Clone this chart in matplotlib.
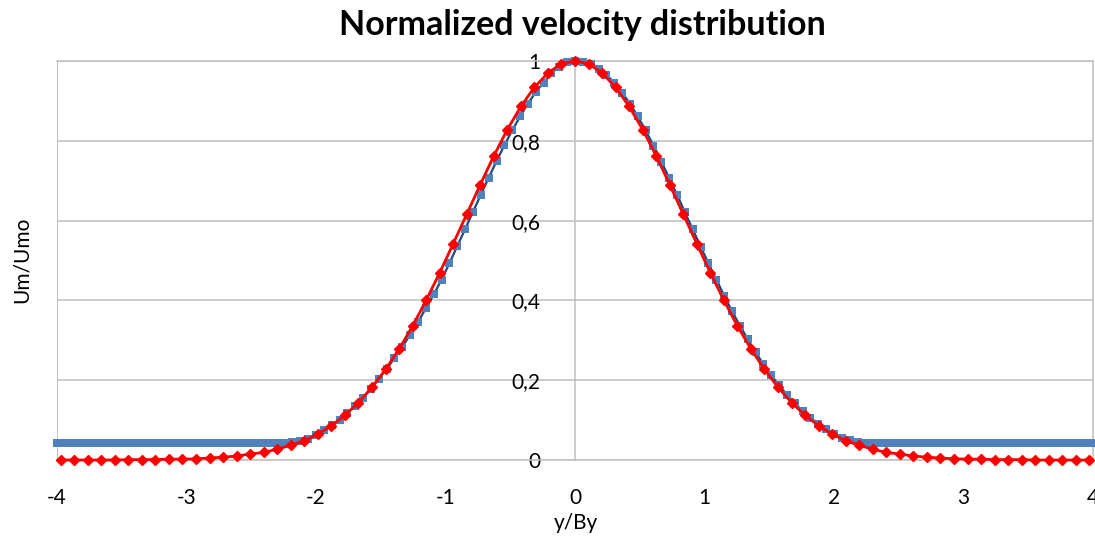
import matplotlib
matplotlib.use("Agg")
import matplotlib.pyplot as plt

title = "Normalized velocity distribution"
x_label = "y/By"
y_label = "Um/Umo"

x_ticks = [-4, -3, -2, -1, 0, 1, 2, 3, 4]
x_tick_labels = ["-4", "-3", "-2", "-1", "0", "1", "2", "3", "4"]
y_ticks = [0, 0.2, 0.4, 0.6, 0.8, 1.0]
y_tick_labels = ["0", "0,2", "0,4", "0,6", "0,8", "1"]

blue_x = [-4.000, -3.939, -3.879, -3.818, -3.758, -3.697, -3.636, -3.576, -3.515, -3.455,
          -3.394, -3.333, -3.273, -3.212, -3.152, -3.091, -3.030, -2.970, -2.909, -2.848,
          -2.788, -2.727, -2.667, -2.606, -2.545, -2.485, -2.424, -2.364, -2.303, -2.242,
          -2.182, -2.121, -2.061, -2.000, -1.939, -1.879, -1.818, -1.758, -1.697, -1.636,
          -1.576, -1.515, -1.455, -1.394, -1.333, -1.273, -1.212, -1.152, -1.091, -1.030,
          -0.970, -0.909, -0.848, -0.788, -0.727, -0.667, -0.606, -0.545, -0.485, -0.424,
          -0.364, -0.303, -0.242, -0.182, -0.121, -0.061, 0.000,
          0.061, 0.121, 0.182, 0.242, 0.303, 0.364, 0.424, 0.485, 0.545, 0.606,
          0.667, 0.727, 0.788, 0.848, 0.909, 0.970, 1.030, 1.091, 1.152, 1.212,
          1.273, 1.333, 1.394, 1.455, 1.515, 1.576, 1.636, 1.697, 1.758, 1.818,
          1.879, 1.939, 2.000, 2.061, 2.121, 2.182, 2.242, 2.303, 2.364, 2.424,
          2.485, 2.545, 2.606, 2.667, 2.727, 2.788, 2.848, 2.909, 2.970, 3.030,
          3.091, 3.152, 3.212, 3.273, 3.333, 3.394, 3.455, 3.515, 3.576, 3.636,
          3.697, 3.758, 3.818, 3.879, 3.939, 4.000]
blue_y = [0.043, 0.043, 0.043, 0.043, 0.043, 0.043, 0.043, 0.043, 0.043, 0.043,
          0.043, 0.043, 0.043, 0.043, 0.043, 0.043, 0.043, 0.043, 0.043, 0.043,
          0.043, 0.043, 0.043, 0.043, 0.043, 0.043, 0.043, 0.043, 0.043, 0.043,
          0.044, 0.047, 0.053, 0.063, 0.074, 0.087, 0.101, 0.118, 0.136, 0.156,
          0.179, 0.204, 0.228, 0.255, 0.284, 0.314, 0.346, 0.380, 0.415, 0.452,
          0.493, 0.536, 0.579, 0.622, 0.665, 0.707, 0.749, 0.789, 0.826, 0.861,
          0.893, 0.922, 0.946, 0.969, 0.986, 0.997, 1.000,
          0.998, 0.992, 0.981, 0.966, 0.946, 0.921, 0.893, 0.861, 0.826, 0.788,
          0.748, 0.707, 0.665, 0.621, 0.578, 0.535, 0.493, 0.452, 0.412, 0.373,
          0.337, 0.303, 0.270, 0.240, 0.212, 0.187, 0.164, 0.142, 0.123, 0.106,
          0.091, 0.078, 0.066, 0.056, 0.049, 0.045, 0.043, 0.043, 0.043, 0.043,
          0.043, 0.043, 0.043, 0.043, 0.043, 0.043, 0.043, 0.043, 0.043, 0.043,
          0.043, 0.043, 0.043, 0.043, 0.043, 0.043, 0.043, 0.043, 0.043, 0.043,
          0.043, 0.043, 0.043, 0.043, 0.043, 0.043]

red_x = [-3.971, -3.867, -3.762, -3.658, -3.553, -3.449, -3.344, -3.240, -3.135, -3.031,
         -2.926, -2.822, -2.717, -2.613, -2.508, -2.404, -2.299, -2.195, -2.090, -1.986,
         -1.881, -1.777, -1.672, -1.568, -1.463, -1.359, -1.254, -1.150, -1.045, -0.941,
         -0.836, -0.732, -0.627, -0.523, -0.418, -0.314, -0.209, -0.105, 0.000,
         0.105, 0.209, 0.314, 0.418, 0.523, 0.627, 0.732, 0.836, 0.941, 1.045,
         1.150, 1.254, 1.359, 1.463, 1.568, 1.672, 1.777, 1.881, 1.986, 2.090,
         2.195, 2.299, 2.404, 2.508, 2.613, 2.717, 2.822, 2.926, 3.031, 3.135,
         3.240, 3.344, 3.449, 3.553, 3.658, 3.762, 3.867, 3.971]
red_y = [0.000, 0.000, 0.000, 0.000, 0.000, 0.001, 0.001, 0.001, 0.002, 0.002,
         0.003, 0.005, 0.007, 0.010, 0.015, 0.019, 0.027, 0.037, 0.048, 0.065,
         0.086, 0.112, 0.144, 0.182, 0.227, 0.278, 0.336, 0.400, 0.469, 0.542,
         0.616, 0.690, 0.762, 0.828, 0.886, 0.934, 0.970, 0.993, 1.000,
         0.993, 0.970, 0.934, 0.886, 0.828, 0.762, 0.690, 0.616, 0.542, 0.469,
         0.400, 0.336, 0.278, 0.227, 0.182, 0.144, 0.112, 0.086, 0.065, 0.048,
         0.037, 0.027, 0.019, 0.015, 0.010, 0.007, 0.005, 0.003, 0.002, 0.002,
         0.001, 0.001, 0.001, 0.000, 0.000, 0.000, 0.000, 0.000]

FONT = ["Lato", "DejaVu Sans"]
plt.rcParams["font.family"] = FONT
GRID = "#BEBEBE"

W, H = 1095, 536
fig = plt.figure(figsize=(W / 100, H / 100), dpi=100)
ax = fig.add_axes([57 / W, 1 - 460 / H, (1093 - 57) / W, (460 - 61) / H])
ax.set_xlim(-4, 4)
ax.set_ylim(0, 1)

ax.set_yticks(y_ticks, labels=y_tick_labels)
ax.set_xticks(x_ticks, labels=x_tick_labels)
ax.yaxis.grid(True, color=GRID, linewidth=1.1)
ax.set_axisbelow(True)
ax.tick_params(axis="y", length=0, pad=25, labelsize=15)
ax.tick_params(axis="x", length=0, pad=20, labelsize=15)

for s in ["top", "right", "bottom"]:
    ax.spines[s].set_color(GRID)
    ax.spines[s].set_linewidth(1.1)
ax.spines["left"].set_position(("data", 0))
ax.spines["left"].set_color(GRID)
ax.spines["left"].set_linewidth(1.1)
ax.axvline(-4, color=GRID, linewidth=1.4, zorder=0.5)

ax.plot(blue_x, blue_y, color="#1F497D", linewidth=1.6, marker="s",
        markersize=5.6, markerfacecolor="#4F81BD", markeredgecolor="#4F81BD",
        markeredgewidth=0, zorder=3, clip_on=False)
ax.plot(red_x, red_y, color="#FF0000", linewidth=2.0, marker="D",
        markersize=4.6, markerfacecolor="#FF0000", markeredgecolor="#FF0000",
        zorder=4, clip_on=False)

fig.text(582 / W, 1 - 25 / H, title, ha="center", va="center",
         fontsize=24.5, fontweight="bold")
fig.text(22 / W, 1 - 260 / H, y_label, ha="center", va="center",
         rotation=90, fontsize=15)
fig.text(576 / W, 1 - 523 / H, x_label, ha="center", va="center", fontsize=15)

fig.savefig("out.png", dpi=100)
